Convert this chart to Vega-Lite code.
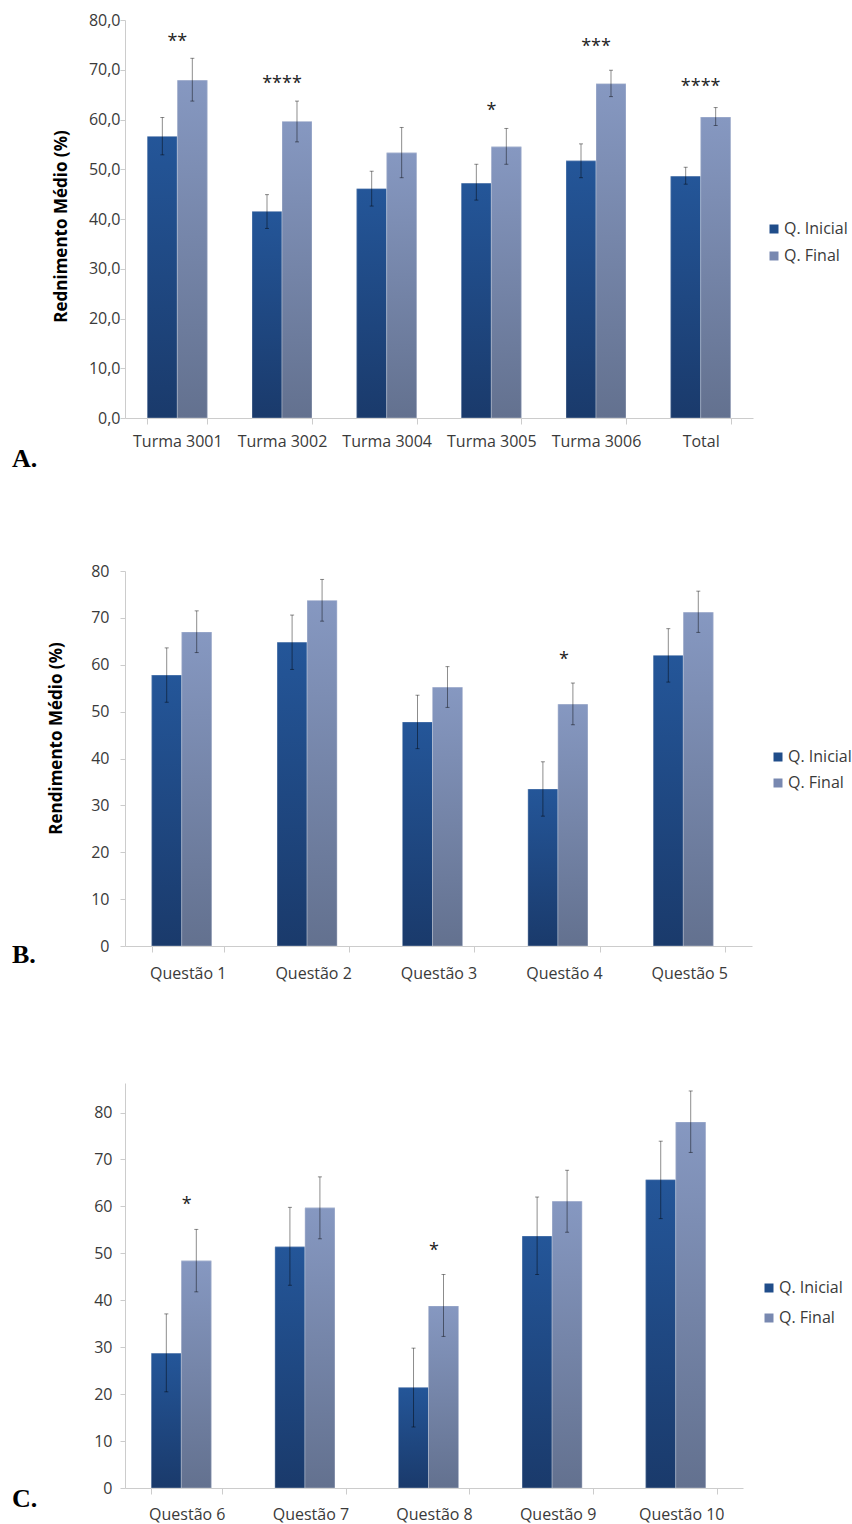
{
  "$schema": "https://vega.github.io/schema/vega-lite/v6.json",
  "padding": {"left": 12, "top": 12, "right": 0, "bottom": 2},
  "background": "white",
  "config": {
    "view": {"stroke": null},
    "font": "Open Sans",
    "axisX": {"title": null, "labelAngle": 0, "labelFontSize": 16, "labelColor": "#3a3a3a", "domainColor": "#cccccc", "tickColor": "#cccccc", "tickBand": "extent", "tickSize": 6, "labelPadding": 9, "grid": false},
    "axisY": {"titleFontSize": 17, "titleFontWeight": "bold", "titleColor": "#000000", "labelFontSize": 16, "labelColor": "#3a3a3a", "domainColor": "#cccccc", "tickColor": "#cccccc", "tickSize": 5, "grid": false, "labelPadding": 3},
    "legend": {"title": null, "symbolType": "square", "symbolSize": 81, "symbolStrokeWidth": 0, "labelFontSize": 16, "labelColor": "#3a3a3a", "orient": "none", "rowPadding": 11, "labelOffset": 2},
    "title": {"font": "Liberation Serif", "fontSize": 26, "fontWeight": "bold", "color": "#000000", "orient": "bottom", "anchor": "start", "frame": "group", "offset": 0}
  },
  "datasets": {
    "a": [
      {"cat": "Turma 3001", "serie": "Q. Inicial", "v": 56.6, "lo": 52.9, "hi": 60.4},
      {"cat": "Turma 3001", "serie": "Q. Final", "v": 67.9, "lo": 63.7, "hi": 72.3},
      {"cat": "Turma 3002", "serie": "Q. Inicial", "v": 41.5, "lo": 38.1, "hi": 44.9},
      {"cat": "Turma 3002", "serie": "Q. Final", "v": 59.6, "lo": 55.5, "hi": 63.7},
      {"cat": "Turma 3004", "serie": "Q. Inicial", "v": 46.1, "lo": 42.6, "hi": 49.6},
      {"cat": "Turma 3004", "serie": "Q. Final", "v": 53.3, "lo": 48.3, "hi": 58.4},
      {"cat": "Turma 3005", "serie": "Q. Inicial", "v": 47.2, "lo": 43.8, "hi": 51.0},
      {"cat": "Turma 3005", "serie": "Q. Final", "v": 54.5, "lo": 51.0, "hi": 58.2},
      {"cat": "Turma 3006", "serie": "Q. Inicial", "v": 51.7, "lo": 48.3, "hi": 55.1},
      {"cat": "Turma 3006", "serie": "Q. Final", "v": 67.2, "lo": 64.6, "hi": 69.9},
      {"cat": "Total", "serie": "Q. Inicial", "v": 48.6, "lo": 47.0, "hi": 50.4},
      {"cat": "Total", "serie": "Q. Final", "v": 60.5, "lo": 58.8, "hi": 62.4}
    ],
    "aStars": [
      {"cat": "Turma 3001", "label": "**", "pos": 76.2},
      {"cat": "Turma 3002", "label": "****", "pos": 67.7},
      {"cat": "Turma 3005", "label": "*", "pos": 62.4},
      {"cat": "Turma 3006", "label": "***", "pos": 75.2},
      {"cat": "Total", "label": "****", "pos": 67.2}
    ],
    "b": [
      {"cat": "Questão 1", "serie": "Q. Inicial", "v": 57.8, "lo": 52.0, "hi": 63.6},
      {"cat": "Questão 1", "serie": "Q. Final", "v": 67.0, "lo": 62.6, "hi": 71.5},
      {"cat": "Questão 2", "serie": "Q. Inicial", "v": 64.8, "lo": 59.0, "hi": 70.6},
      {"cat": "Questão 2", "serie": "Q. Final", "v": 73.7, "lo": 69.3, "hi": 78.2},
      {"cat": "Questão 3", "serie": "Q. Inicial", "v": 47.8, "lo": 42.1, "hi": 53.5},
      {"cat": "Questão 3", "serie": "Q. Final", "v": 55.2, "lo": 50.9, "hi": 59.6},
      {"cat": "Questão 4", "serie": "Q. Inicial", "v": 33.5, "lo": 27.7, "hi": 39.3},
      {"cat": "Questão 4", "serie": "Q. Final", "v": 51.6, "lo": 47.2, "hi": 56.1},
      {"cat": "Questão 5", "serie": "Q. Inicial", "v": 62.0, "lo": 56.3, "hi": 67.7},
      {"cat": "Questão 5", "serie": "Q. Final", "v": 71.2, "lo": 66.9, "hi": 75.7}
    ],
    "bStars": [
      {"cat": "Questão 4", "label": "*", "pos": 61.7}
    ],
    "c": [
      {"cat": "Questão 6", "serie": "Q. Inicial", "v": 28.7, "lo": 20.5, "hi": 37.1},
      {"cat": "Questão 6", "serie": "Q. Final", "v": 48.4, "lo": 41.8, "hi": 55.1},
      {"cat": "Questão 7", "serie": "Q. Inicial", "v": 51.4, "lo": 43.2, "hi": 59.8},
      {"cat": "Questão 7", "serie": "Q. Final", "v": 59.7, "lo": 53.1, "hi": 66.3},
      {"cat": "Questão 8", "serie": "Q. Inicial", "v": 21.4, "lo": 13.0, "hi": 29.8},
      {"cat": "Questão 8", "serie": "Q. Final", "v": 38.8, "lo": 32.3, "hi": 45.5},
      {"cat": "Questão 9", "serie": "Q. Inicial", "v": 53.7, "lo": 45.5, "hi": 62.0},
      {"cat": "Questão 9", "serie": "Q. Final", "v": 61.1, "lo": 54.5, "hi": 67.7},
      {"cat": "Questão 10", "serie": "Q. Inicial", "v": 65.7, "lo": 57.4, "hi": 73.9},
      {"cat": "Questão 10", "serie": "Q. Final", "v": 78.0, "lo": 71.5, "hi": 84.6}
    ],
    "cStars": [
      {"cat": "Questão 6", "label": "*", "pos": 60.9},
      {"cat": "Questão 8", "label": "*", "pos": 51.2}
    ]
  },
  "columns": 1,
  "spacing": 91,
  "resolve": {"scale": {"fill": "independent"}, "legend": {"fill": "independent"}},
  "concat": [
    {
      "width": 628,
      "height": 398,
      "title": {"text": "A.", "dx": -113, "dy": -7},
      "layer": [
        {
          "data": {"name": "a"},
          "mark": {"type": "bar"},
          "encoding": {
            "x": {"field": "cat", "type": "nominal", "sort": null, "scale": {"domain": ["Turma 3001", "Turma 3002", "Turma 3004", "Turma 3005", "Turma 3006", "Total"], "paddingInner": 0.427, "paddingOuter": 0.2135}},
            "xOffset": {"field": "serie", "type": "nominal", "scale": {"domain": ["Q. Inicial", "Q. Final"], "paddingInner": 0, "paddingOuter": 0}},
            "y": {"field": "v", "type": "quantitative", "scale": {"domain": [0, 80], "nice": false}, "axis": {"title": "Rednimento Médio (%)", "values": [0, 10, 20, 30, 40, 50, 60, 70, 80], "labelExpr": "replace(format(datum.value, '.1f'), '.', ',')", "labelPadding": 0, "titlePadding": 18, "titleY": 206}},
            "fill": {"field": "serie", "type": "nominal", "scale": {"domain": ["Q. Inicial", "Q. Final"], "range": ["#204d8a", "#7888b0"]}, "legend": {"legendX": 641, "legendY": 201}}
          }
        },
        {
          "data": {"name": "a"},
          "transform": [{"filter": "datum.serie === 'Q. Inicial'"}],
          "mark": {"type": "bar", "stroke": "#ffffff", "strokeOpacity": 0.3, "strokeWidth": 1, "fill": {"gradient": "linear", "x1": 0, "y1": 0, "x2": 0, "y2": 1, "stops": [{"offset": 0, "color": "#245699"}, {"offset": 1, "color": "#1a3a6b"}]}},
          "encoding": {
            "x": {"field": "cat", "type": "nominal", "sort": null},
            "xOffset": {"field": "serie", "type": "nominal"},
            "y": {"field": "v", "type": "quantitative"}
          }
        },
        {
          "data": {"name": "a"},
          "transform": [{"filter": "datum.serie === 'Q. Final'"}],
          "mark": {"type": "bar", "stroke": "#ffffff", "strokeOpacity": 0.3, "strokeWidth": 1, "fill": {"gradient": "linear", "x1": 0, "y1": 0, "x2": 0, "y2": 1, "stops": [{"offset": 0, "color": "#8698c1"}, {"offset": 1, "color": "#63718f"}]}},
          "encoding": {
            "x": {"field": "cat", "type": "nominal", "sort": null},
            "xOffset": {"field": "serie", "type": "nominal"},
            "y": {"field": "v", "type": "quantitative"}
          }
        },
        {
          "data": {"name": "a"},
          "mark": {"type": "rule", "color": "#000000", "opacity": 0.45, "strokeWidth": 1},
          "encoding": {
            "x": {"field": "cat", "type": "nominal", "sort": null},
            "xOffset": {"field": "serie", "type": "nominal"},
            "y": {"field": "lo", "type": "quantitative"},
            "y2": {"field": "hi"}
          }
        },
        {
          "data": {"name": "a"},
          "mark": {"type": "tick", "orient": "horizontal", "size": 4, "thickness": 1, "color": "#000000", "opacity": 0.45},
          "encoding": {
            "x": {"field": "cat", "type": "nominal", "sort": null},
            "xOffset": {"field": "serie", "type": "nominal"},
            "y": {"field": "lo", "type": "quantitative"}
          }
        },
        {
          "data": {"name": "a"},
          "mark": {"type": "tick", "orient": "horizontal", "size": 4, "thickness": 1, "color": "#000000", "opacity": 0.45},
          "encoding": {
            "x": {"field": "cat", "type": "nominal", "sort": null},
            "xOffset": {"field": "serie", "type": "nominal"},
            "y": {"field": "hi", "type": "quantitative"}
          }
        },
        {
          "data": {"name": "aStars"},
          "mark": {"type": "text", "fontSize": 18, "color": "#222222", "baseline": "middle", "dy": 3},
          "encoding": {
            "x": {"field": "cat", "type": "nominal", "sort": null},
            "y": {"field": "pos", "type": "quantitative"},
            "text": {"field": "label"}
          }
        }
      ]
    },
    {
      "columns": 1,
      "spacing": 102,
      "resolve": {"scale": {"fill": "independent"}, "legend": {"fill": "independent"}},
      "concat": [
        {
          "width": 627,
          "height": 375,
          "title": {"text": "B.", "dx": -113, "dy": -43},
          "layer": [
            {
              "data": {"name": "b"},
              "mark": {"type": "bar"},
              "encoding": {
                "x": {"field": "cat", "type": "nominal", "sort": null, "axis": {"labelPadding": 13}, "scale": {"domain": ["Questão 1", "Questão 2", "Questão 3", "Questão 4", "Questão 5"], "paddingInner": 0.426, "paddingOuter": 0.213}},
                "xOffset": {"field": "serie", "type": "nominal", "scale": {"domain": ["Q. Inicial", "Q. Final"], "paddingInner": 0, "paddingOuter": 0}},
                "y": {"field": "v", "type": "quantitative", "scale": {"domain": [0, 80], "nice": false}, "axis": {"title": "Rendimento Médio (%)", "values": [0, 10, 20, 30, 40, 50, 60, 70, 80], "labelPadding": 11, "titlePadding": 25, "titleY": 167}},
                "fill": {"field": "serie", "type": "nominal", "scale": {"domain": ["Q. Inicial", "Q. Final"], "range": ["#204d8a", "#7888b0"]}, "legend": {"legendX": 645, "legendY": 178, "rowPadding": 10}}
              }
            },
            {
              "data": {"name": "b"},
              "transform": [{"filter": "datum.serie === 'Q. Inicial'"}],
              "mark": {"type": "bar", "stroke": "#ffffff", "strokeOpacity": 0.3, "strokeWidth": 1, "fill": {"gradient": "linear", "x1": 0, "y1": 0, "x2": 0, "y2": 1, "stops": [{"offset": 0, "color": "#245699"}, {"offset": 1, "color": "#1a3a6b"}]}},
              "encoding": {
                "x": {"field": "cat", "type": "nominal", "sort": null},
                "xOffset": {"field": "serie", "type": "nominal"},
                "y": {"field": "v", "type": "quantitative"}
              }
            },
            {
              "data": {"name": "b"},
              "transform": [{"filter": "datum.serie === 'Q. Final'"}],
              "mark": {"type": "bar", "stroke": "#ffffff", "strokeOpacity": 0.3, "strokeWidth": 1, "fill": {"gradient": "linear", "x1": 0, "y1": 0, "x2": 0, "y2": 1, "stops": [{"offset": 0, "color": "#8698c1"}, {"offset": 1, "color": "#63718f"}]}},
              "encoding": {
                "x": {"field": "cat", "type": "nominal", "sort": null},
                "xOffset": {"field": "serie", "type": "nominal"},
                "y": {"field": "v", "type": "quantitative"}
              }
            },
            {
              "data": {"name": "b"},
              "mark": {"type": "rule", "color": "#000000", "opacity": 0.45, "strokeWidth": 1},
              "encoding": {
                "x": {"field": "cat", "type": "nominal", "sort": null},
                "xOffset": {"field": "serie", "type": "nominal"},
                "y": {"field": "lo", "type": "quantitative"},
                "y2": {"field": "hi"}
              }
            },
            {
              "data": {"name": "b"},
              "mark": {"type": "tick", "orient": "horizontal", "size": 4, "thickness": 1, "color": "#000000", "opacity": 0.45},
              "encoding": {
                "x": {"field": "cat", "type": "nominal", "sort": null},
                "xOffset": {"field": "serie", "type": "nominal"},
                "y": {"field": "lo", "type": "quantitative"}
              }
            },
            {
              "data": {"name": "b"},
              "mark": {"type": "tick", "orient": "horizontal", "size": 4, "thickness": 1, "color": "#000000", "opacity": 0.45},
              "encoding": {
                "x": {"field": "cat", "type": "nominal", "sort": null},
                "xOffset": {"field": "serie", "type": "nominal"},
                "y": {"field": "hi", "type": "quantitative"}
              }
            },
            {
              "data": {"name": "bStars"},
              "mark": {"type": "text", "fontSize": 18, "color": "#222222", "baseline": "middle", "dy": 3},
              "encoding": {
                "x": {"field": "cat", "type": "nominal", "sort": null},
                "y": {"field": "pos", "type": "quantitative"},
                "text": {"field": "label"}
              }
            }
          ]
        },
        {
          "width": 618,
          "height": 405,
          "title": {"text": "C.", "dx": -113, "dy": -40},
          "layer": [
            {
              "data": {"name": "c"},
              "mark": {"type": "bar"},
              "encoding": {
                "x": {"field": "cat", "type": "nominal", "sort": null, "axis": {"labelPadding": 12}, "scale": {"domain": ["Questão 6", "Questão 7", "Questão 8", "Questão 9", "Questão 10"], "paddingInner": 0.426, "paddingOuter": 0.213}},
                "xOffset": {"field": "serie", "type": "nominal", "scale": {"domain": ["Q. Inicial", "Q. Final"], "paddingInner": 0, "paddingOuter": 0}},
                "y": {"field": "v", "type": "quantitative", "scale": {"domain": [0, 86.3], "nice": false}, "axis": {"title": null, "values": [0, 10, 20, 30, 40, 50, 60, 70, 80], "labelPadding": 8}},
                "fill": {"field": "serie", "type": "nominal", "scale": {"domain": ["Q. Inicial", "Q. Final"], "range": ["#204d8a", "#7888b0"]}, "legend": {"legendX": 636, "legendY": 197, "rowPadding": 14}}
              }
            },
            {
              "data": {"name": "c"},
              "transform": [{"filter": "datum.serie === 'Q. Inicial'"}],
              "mark": {"type": "bar", "stroke": "#ffffff", "strokeOpacity": 0.3, "strokeWidth": 1, "fill": {"gradient": "linear", "x1": 0, "y1": 0, "x2": 0, "y2": 1, "stops": [{"offset": 0, "color": "#245699"}, {"offset": 1, "color": "#1a3a6b"}]}},
              "encoding": {
                "x": {"field": "cat", "type": "nominal", "sort": null},
                "xOffset": {"field": "serie", "type": "nominal"},
                "y": {"field": "v", "type": "quantitative"}
              }
            },
            {
              "data": {"name": "c"},
              "transform": [{"filter": "datum.serie === 'Q. Final'"}],
              "mark": {"type": "bar", "stroke": "#ffffff", "strokeOpacity": 0.3, "strokeWidth": 1, "fill": {"gradient": "linear", "x1": 0, "y1": 0, "x2": 0, "y2": 1, "stops": [{"offset": 0, "color": "#8698c1"}, {"offset": 1, "color": "#63718f"}]}},
              "encoding": {
                "x": {"field": "cat", "type": "nominal", "sort": null},
                "xOffset": {"field": "serie", "type": "nominal"},
                "y": {"field": "v", "type": "quantitative"}
              }
            },
            {
              "data": {"name": "c"},
              "mark": {"type": "rule", "color": "#000000", "opacity": 0.45, "strokeWidth": 1},
              "encoding": {
                "x": {"field": "cat", "type": "nominal", "sort": null},
                "xOffset": {"field": "serie", "type": "nominal"},
                "y": {"field": "lo", "type": "quantitative"},
                "y2": {"field": "hi"}
              }
            },
            {
              "data": {"name": "c"},
              "mark": {"type": "tick", "orient": "horizontal", "size": 4, "thickness": 1, "color": "#000000", "opacity": 0.45},
              "encoding": {
                "x": {"field": "cat", "type": "nominal", "sort": null},
                "xOffset": {"field": "serie", "type": "nominal"},
                "y": {"field": "lo", "type": "quantitative"}
              }
            },
            {
              "data": {"name": "c"},
              "mark": {"type": "tick", "orient": "horizontal", "size": 4, "thickness": 1, "color": "#000000", "opacity": 0.45},
              "encoding": {
                "x": {"field": "cat", "type": "nominal", "sort": null},
                "xOffset": {"field": "serie", "type": "nominal"},
                "y": {"field": "hi", "type": "quantitative"}
              }
            },
            {
              "data": {"name": "cStars"},
              "mark": {"type": "text", "fontSize": 18, "color": "#222222", "baseline": "middle", "dy": 3},
              "encoding": {
                "x": {"field": "cat", "type": "nominal", "sort": null},
                "y": {"field": "pos", "type": "quantitative"},
                "text": {"field": "label"}
              }
            }
          ]
        }
      ]
    }
  ]
}
